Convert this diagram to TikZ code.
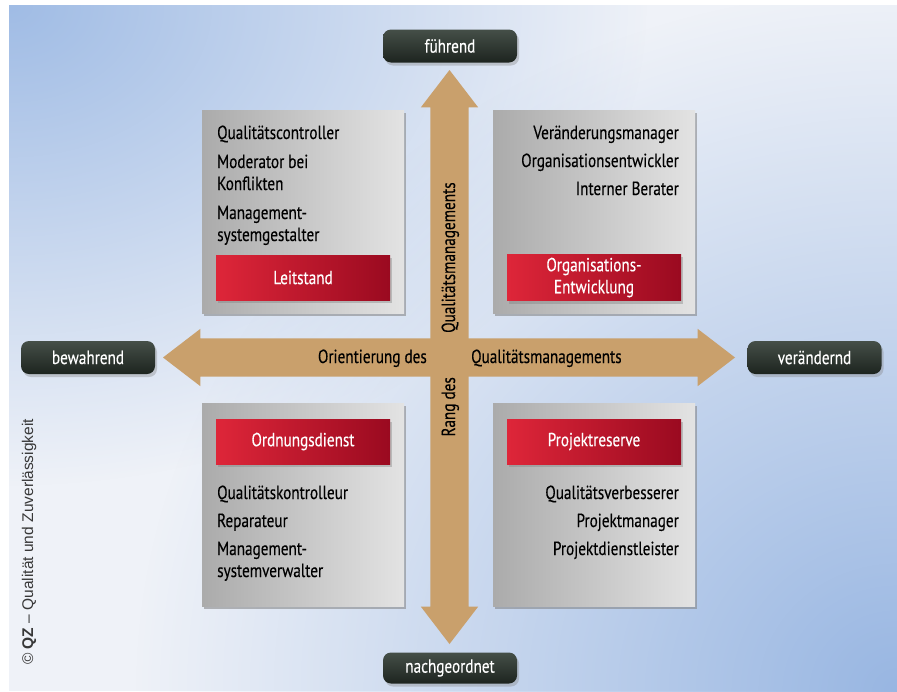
\documentclass[tikz,border=0pt]{standalone}
\usepackage{fontspec}
\setmainfont[FakeStretch=0.8, FakeBold=0.25]{PT Sans}
\newfontfamily\arialfont{Liberation Sans}
\usepackage{xcolor}
\usetikzlibrary{shapes.arrows,shadows,fadings}

\definecolor{bgblue}{HTML}{A0BCE5}
\definecolor{bgblueB}{HTML}{98B6E2}
\definecolor{bglight}{HTML}{EFF2F8}
\definecolor{axistan}{HTML}{C9A06C}
\definecolor{pilltop}{HTML}{454F48}
\definecolor{pillbot}{HTML}{1D241F}
\definecolor{redlight}{HTML}{DE2639}
\definecolor{reddark}{HTML}{9A0A20}

\tikzfading[name=cornerblob, inner color=transparent!0,
  outer color=transparent!100]

\tikzset{
  pill/.style={rounded corners=8pt, top color=pilltop, bottom color=pillbot,
    draw=none, text=white, minimum width=134pt, minimum height=33pt,
    font=\fontsize{19}{22}\selectfont,
    drop shadow={shadow xshift=2pt, shadow yshift=-3pt, opacity=.35}},
  quadbox/.style={left color=black!33, right color=black!11, draw=none,
    minimum width=202pt, minimum height=203pt,
    drop shadow={shadow xshift=2pt, shadow yshift=-2pt, opacity=.55}},
  rolebar/.style={left color=redlight, right color=reddark, draw=none,
    text=white, minimum width=174pt, minimum height=45pt, align=center,
    font=\fontsize{19}{22}\selectfont,
    drop shadow={shadow xshift=2pt, shadow yshift=-3pt, opacity=.4}},
  role/.style={inner sep=0pt, font=\fontsize{19}{22}\selectfont},
  bigaxis/.style={double arrow, fill=axistan, draw=none, inner xsep=0pt,
    inner ysep=19pt, minimum width=57pt, double arrow head extend=9.5pt,
    double arrow tip angle=75},
  axislabel/.style={inner sep=0pt, font=\fontsize{19}{22}\selectfont}
}

\begin{document}
\begin{tikzpicture}[x=1pt, y=-1pt]
\useasboundingbox (0,0) rectangle (897,691);
% background
    \fill[bglight] (9,5) rectangle (897,691);
    \begin{scope}
        \clip (9,5) rectangle (897,691);
        \fill[bgblue, path fading=cornerblob] (9,5) ellipse (640pt and 480pt);
        \fill[bgblueB, path fading=cornerblob] (897,691) ellipse (760pt and 700pt);
    \end{scope}
% quadrants
    \node[quadbox] (qleit) at (303,212) {};
    \node[quadbox] (qorga) at (594,212) {};
    \node[quadbox] (qordn) at (303,505) {};
    \node[quadbox] (qproj) at (594,505) {};
% axes
    \node[bigaxis, minimum height=574pt, rotate=90] (vaxis) at (449.5,357) {};
    \node[bigaxis, minimum height=572pt] (haxis) at (449,357.5) {};
    \node[axislabel, anchor=base east] (orient) at (427,363) {Orientierung des};
    \node[axislabel, anchor=base west] (orientqm) at (471,363) {Qualitätsmanagements};
    \node[axislabel, rotate=90, anchor=base west] (rangqm) at (455,333) {Qualitätsmanagements};
    \node[axislabel, rotate=90, anchor=base east] (rang) at (455,377) {Rang des};
% end points
    \node[pill] (fuehrend) at (450,46) {führend};
    \node[pill, minimum height=31pt] (nachgeordnet) at (450,668) {nachgeordnet};
    \node[pill] (bewahrend) at (88,357.5) {bewahrend};
    \node[pill] (veraendernd) at (814.5,357.5) {verändernd};
% top left
    \foreach \y/\t [count=\i] in {139/Qualitätscontroller, 168/Moderator bei,
        190/Konflikten, 219/Management-, 241/systemgestalter} {
        \node[role, anchor=base west] (leit\i) at (217,\y) {\t};
    }
    \node[rolebar] (leitstand) at (303,277.5) {Leitstand};
% top right
    \foreach \y/\t [count=\i] in {139/Veränderungsmanager,
        167/Organisationsentwickler, 195/Interner Berater} {
        \node[role, anchor=base east] (orga\i) at (679,\y) {\t};
    }
    \node[rolebar] (orgaentw) at (594,277.5) {Organisations-\\Entwicklung};
% bottom left
    \node[rolebar] (ordnung) at (303,441.5) {Ordnungsdienst};
    \foreach \y/\t [count=\i] in {499/Qualitätskontrolleur, 527/Reparateur,
        555/Management-, 577/systemverwalter} {
        \node[role, anchor=base west] (ordn\i) at (217,\y) {\t};
    }
% bottom right
    \node[rolebar] (projres) at (594,441.5) {Projektreserve};
    \foreach \y/\t [count=\i] in {499/Qualitätsverbesserer, 527/Projektmanager,
        555/Projektdienstleister} {
        \node[role, anchor=base east] (proj\i) at (679,\y) {\t};
    }
% source
    \node[rotate=90, anchor=base west, inner sep=0pt, text=black!78,
        font=\arialfont\fontsize{15.5}{18}\selectfont] (source) at (33,665)
        {© \textbf{QZ} – Qualität und Zuverlässigkeit};
\end{tikzpicture}
\end{document}
